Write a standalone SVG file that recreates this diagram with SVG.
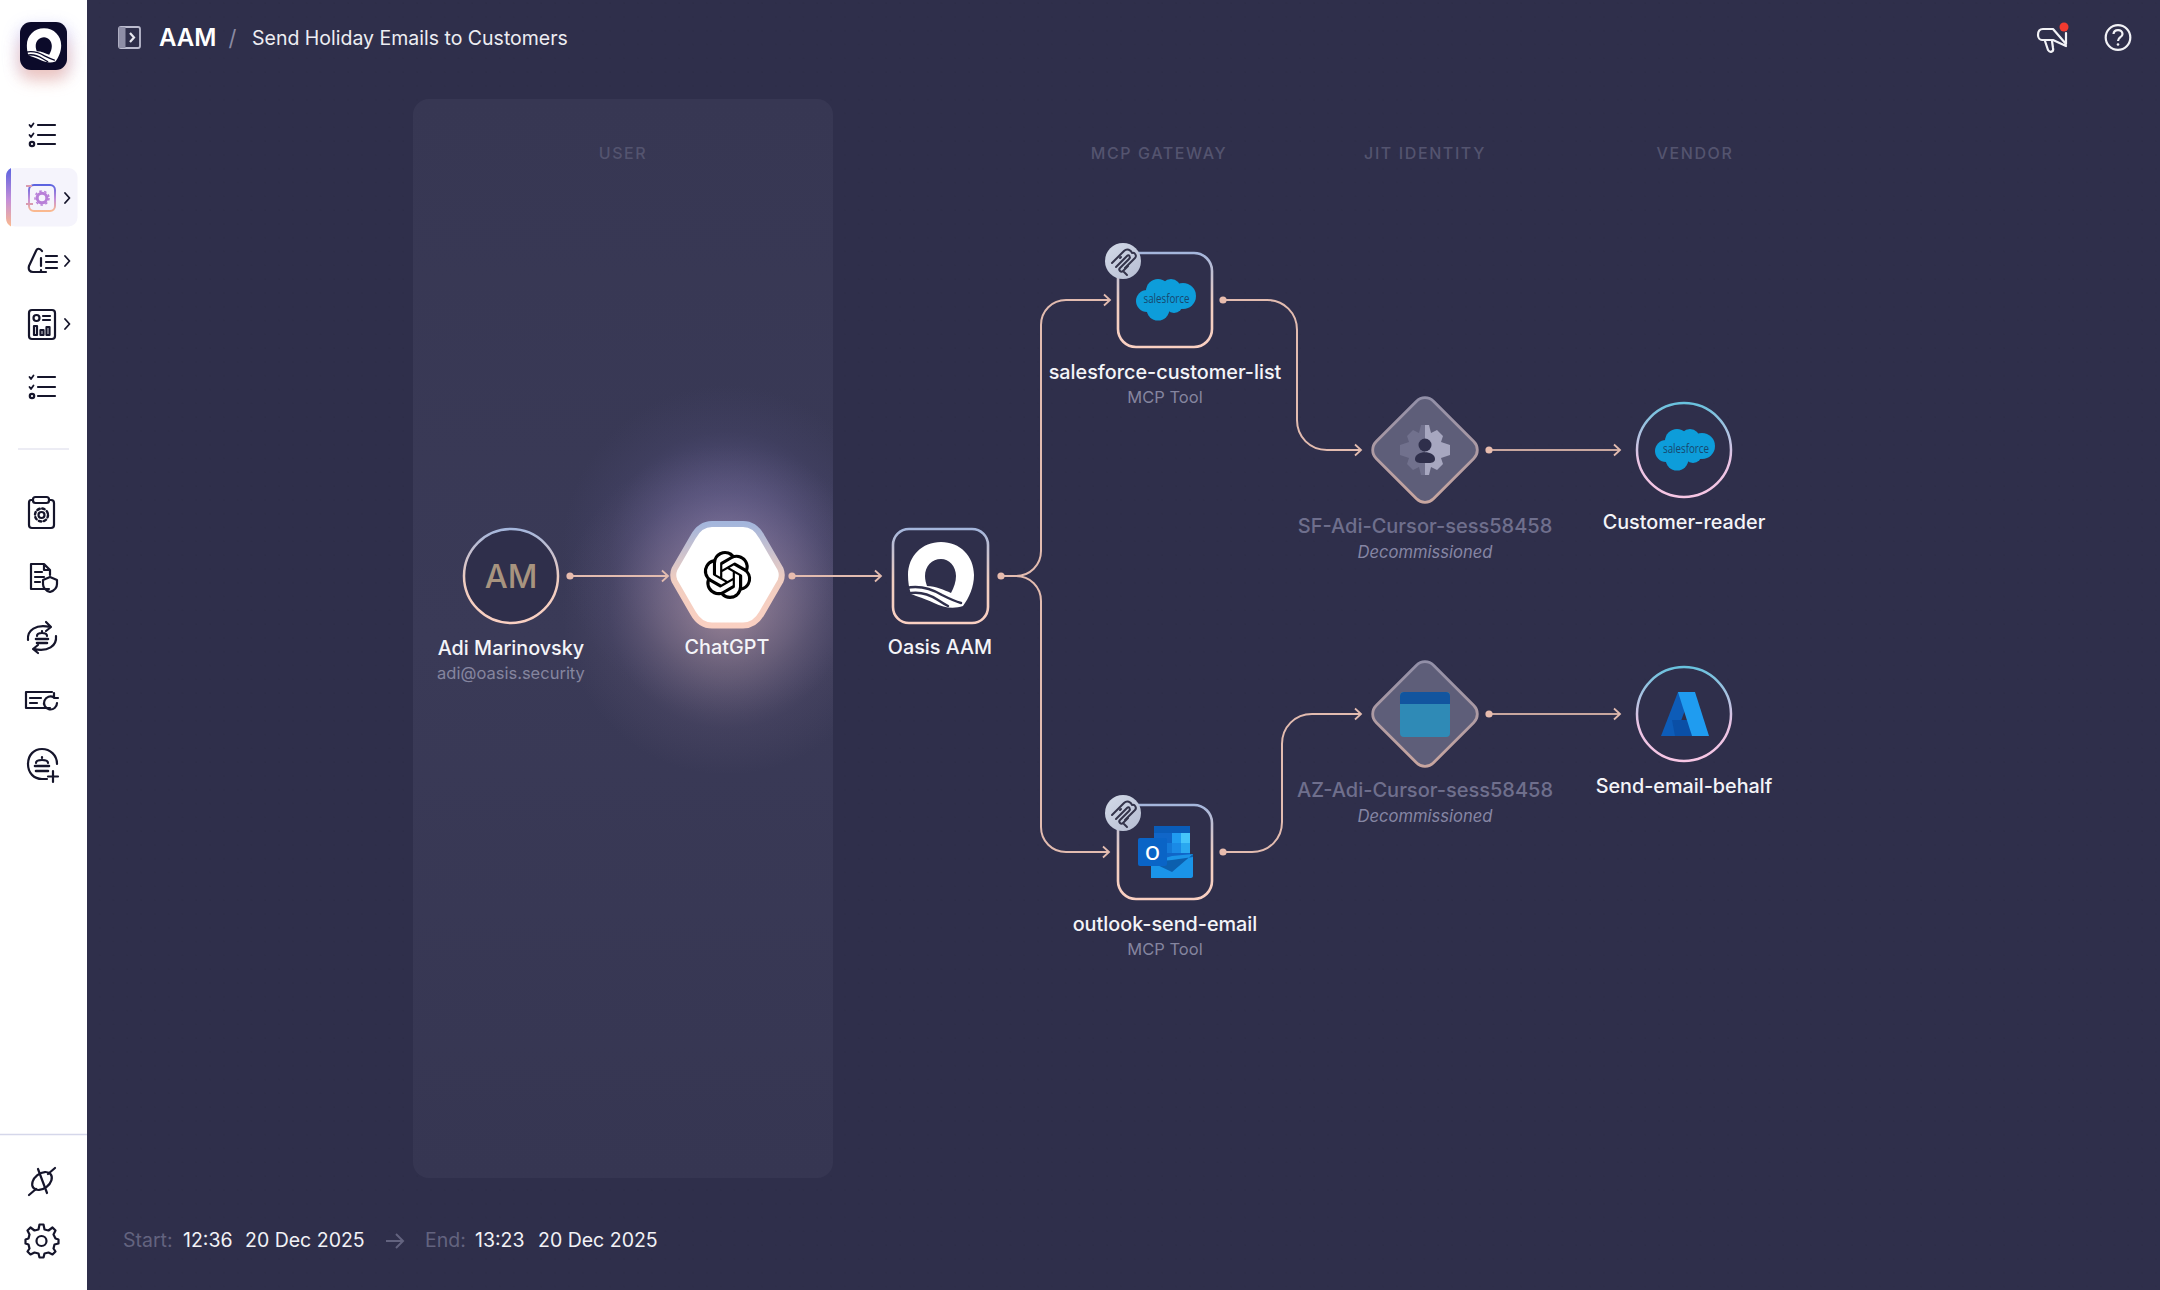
<svg xmlns="http://www.w3.org/2000/svg" xmlns:xlink="http://www.w3.org/1999/xlink" width="2160" height="1290" viewBox="0 0 2160 1290">
<style>
text{font-family:Inter,"Noto Sans","Liberation Sans",sans-serif}
.nm{fill:#f4f4f8;font-size:19.800px;font-weight:500;text-anchor:middle}
.sub{fill:#85859f;font-size:16.500px;text-anchor:middle}
.dim{fill:#6f6f8d;font-size:20px;font-weight:500;text-anchor:middle}
.dec{fill:#8686a4;font-size:16.600px;font-style:italic;text-anchor:middle}
.col{fill:#54546f;font-size:16px;font-weight:500;letter-spacing:1.600px;text-anchor:middle}
.ft{fill:#f2f2f6;font-size:19.500px}
.ftd{fill:#63637f;font-size:19.500px}
.ic{fill:none;stroke:#15152b;stroke-width:2.200;stroke-linecap:round;stroke-linejoin:round}
.cn{fill:none;stroke:#e3bcb0;stroke-width:2;marker-start:url(#dot);marker-end:url(#arr)}
.cn2{fill:none;stroke:#e3bcb0;stroke-width:2;marker-end:url(#arr)}
.dm{stroke:#c9a79f}
.box{fill:#2f2f4b;stroke:url(#gs);stroke-width:2.600}
.cld{fill:#0d9dda}
.sf{fill:#17476e;font-size:12px;font-family:"Open Sans","Liberation Sans",sans-serif}
</style>
<defs>
<linearGradient id="gs" x1="0" y1="0" x2="0" y2="1"><stop offset="0" stop-color="#a4b6dc"/><stop offset=".55" stop-color="#f0cdc0"/><stop offset="1" stop-color="#fad0c2"/></linearGradient>
<linearGradient id="gd" x1="0" y1="0" x2="1" y2="1"><stop offset="0" stop-color="#8f8ea8"/><stop offset="1" stop-color="#cba79f"/></linearGradient>
<linearGradient id="gv" x1="0" y1="0" x2="0" y2="1"><stop offset="0" stop-color="#68c2de"/><stop offset=".6" stop-color="#e9c3e4"/><stop offset="1" stop-color="#f7c6e4"/></linearGradient>
<linearGradient id="gb" x1="0" y1="0" x2="1" y2="1"><stop offset="0" stop-color="#d3dae8"/><stop offset="1" stop-color="#b6bdd2"/></linearGradient>
<linearGradient id="ga" x1="0" y1="0" x2="0" y2="1"><stop offset="0" stop-color="#5b63e0"/><stop offset=".55" stop-color="#c58fd8"/><stop offset="1" stop-color="#fbb98e"/></linearGradient>
<linearGradient id="gp" x1="0" y1="0" x2="0" y2="1"><stop offset="0" stop-color="#373753"/><stop offset=".5" stop-color="#3a3a57"/><stop offset="1" stop-color="#363652"/></linearGradient>
<radialGradient id="g1" gradientUnits="userSpaceOnUse" cx="727" cy="550" r="165"><stop offset="0" stop-color="#7a74ac" stop-opacity=".8"/><stop offset=".4" stop-color="#6a6496" stop-opacity=".55"/><stop offset=".72" stop-color="#5f5a8c" stop-opacity=".16"/><stop offset="1" stop-color="#5a5686" stop-opacity="0"/></radialGradient>
<radialGradient id="g2" gradientUnits="userSpaceOnUse" cx="727" cy="610" r="165"><stop offset="0" stop-color="#b89aa2" stop-opacity=".7"/><stop offset=".4" stop-color="#9a8598" stop-opacity=".42"/><stop offset=".72" stop-color="#807090" stop-opacity=".13"/><stop offset="1" stop-color="#807090" stop-opacity="0"/></radialGradient>
<clipPath id="pc"><rect x="413" y="99" width="420" height="1079" rx="16"/></clipPath>
<filter id="b8" x="-60%" y="-60%" width="220%" height="220%"><feGaussianBlur stdDeviation="8"/></filter>
<pattern id="dots" width="13.8" height="13.8" patternUnits="userSpaceOnUse"><circle cx="3" cy="3" r=".6" fill="#1c1c30" opacity=".35"/></pattern>
<marker id="dot" markerUnits="userSpaceOnUse" markerWidth="10" markerHeight="10" refX="5" refY="5" viewBox="0 0 10 10"><circle cx="5" cy="5" r="3.600" fill="#e8bcae"/></marker>
<marker id="arr" markerUnits="userSpaceOnUse" markerWidth="12" markerHeight="16" refX="9" refY="8" viewBox="0 0 12 16" orient="auto"><path d="M3 2.500L9 8L3 13.500" fill="none" stroke="#e3bcb0" stroke-width="1.800"/></marker>
<g id="cloud" class="cld">
<circle cx="11" cy="22" r="11"/><circle cx="22" cy="12" r="12"/><circle cx="35" cy="10" r="10"/><circle cx="47" cy="17" r="13"/><circle cx="38" cy="25" r="9"/><circle cx="22" cy="30" r="11.500"/><rect x="12" y="12" width="34" height="18"/>
</g>
<g id="mcp" fill="none" stroke="#33334a" stroke-width="2" stroke-linecap="round" stroke-linejoin="round">
<path d="M-11 2L1-10C4-13 8-11 9-8C12-9 14-5 12-3L2 7"/>
<path d="M-7 6L4-5C6-7 8-4 6-2L-3 7C-5 9-2 12 0 10L5 5"/>
<path d="M-3-3L-2-4"/>
<path d="M1 11L4 14"/>
</g>
<g id="q">
<path fill="#fff" d="M-32-1C-32-20-18-34 1-34C20-34 34-20 34-1C34 11 29 22 23 30C14 33 4 32-6 27C-14 23-24 20-29 18C-31 12-32 6-32-1Z"/>
<path fill="currentColor" d="M1-17C-8-17-15-10-15 0C-15 4-14 7-13 10C-4 10 4 14 11 17C14 11 16 6 16 0C16-10 9-17 1-17Z"/>
<path fill="none" stroke="currentColor" stroke-width="2.500" stroke-linecap="round" d="M-34 12C-20 9-8 13 2 19C8 22 14 25 21 27"/>
<path fill="none" stroke="currentColor" stroke-width="2.500" stroke-linecap="round" d="M-33 18C-22 15-10 19-2 24C1 26 4 28 8 30"/>
</g>
<g id="chk" class="ic"><path d="M38 125H55M38 135H55M38 144H55"/><path d="M29.500 125L31 127L33.500 123.500M29.500 135L31 137L33.500 133.500" stroke-width="1.800"/><circle cx="32" cy="144" r="2.200"/></g>
<path id="open" d="M22.2819 9.8211a5.9847 5.9847 0 0 0-.5157-4.9108 6.0462 6.0462 0 0 0-6.5098-2.9A6.0651 6.0651 0 0 0 4.9807 4.1818a5.9847 5.9847 0 0 0-3.9977 2.9 6.0462 6.0462 0 0 0 .7427 7.0966 5.98 5.98 0 0 0 .511 4.9107 6.051 6.051 0 0 0 6.5146 2.9001A5.9847 5.9847 0 0 0 13.2599 24a6.0557 6.0557 0 0 0 5.7718-4.2058 5.9894 5.9894 0 0 0 3.9977-2.9001 6.0557 6.0557 0 0 0-.7475-7.0729zm-9.022 12.6081a4.4755 4.4755 0 0 1-2.8764-1.0408l.1419-.0804 4.7783-2.7582a.7948.7948 0 0 0 .3927-.6813v-6.7369l2.02 1.1686a.071.071 0 0 1 .038.052v5.5826a4.504 4.504 0 0 1-4.4945 4.4944zm-9.6607-4.1254a4.4708 4.4708 0 0 1-.5346-3.0137l.142.0852 4.783 2.7582a.7712.7712 0 0 0 .7806 0l5.8428-3.3685v2.3324a.0804.0804 0 0 1-.0332.0615L9.74 19.9502a4.4992 4.4992 0 0 1-6.1408-1.6464zM2.3408 7.8956a4.485 4.485 0 0 1 2.3655-1.9728V11.6a.7664.7664 0 0 0 .3879.6765l5.8144 3.3543-2.0201 1.1685a.0757.0757 0 0 1-.071 0l-4.8303-2.7865A4.504 4.504 0 0 1 2.3408 7.872zm16.5963 3.8558L13.1038 8.364 15.1192 7.2a.0757.0757 0 0 1 .071 0l4.8303 2.7913a4.4944 4.4944 0 0 1-.6765 8.1042v-5.6772a.79.79 0 0 0-.407-.667zm2.0107-3.0231l-.142-.0852-4.7735-2.7818a.7759.7759 0 0 0-.7854 0L9.409 9.2297V6.8974a.0662.0662 0 0 1 .0284-.0615l4.8303-2.7866a4.4992 4.4992 0 0 1 6.6802 4.66zM8.3065 12.863l-2.02-1.1638a.0804.0804 0 0 1-.038-.0567V6.0742a4.4992 4.4992 0 0 1 7.3757-3.4537l-.142.0805L8.704 5.459a.7948.7948 0 0 0-.3927.6813zm1.0976-2.3654l2.602-1.4998 2.6069 1.4998v2.9994l-2.5974 1.4997-2.6067-1.4997Z"/>
</defs>

<rect width="2160" height="1290" fill="#2f2f4b"/>
<rect x="87" width="2073" height="1290" fill="url(#dots)"/>

<g id="lane-user">
<rect x="413" y="99" width="420" height="1079" rx="16" fill="url(#gp)"/>
<g clip-path="url(#pc)"><circle cx="727" cy="550" r="165" fill="url(#g1)"/><circle cx="727" cy="610" r="165" fill="url(#g2)"/></g>
</g>

<g id="sidebar">
<rect width="87" height="1290" fill="#fff"/>
<g id="logo">
<rect x="18" y="26" width="52" height="50" rx="12" fill="#8f8ff0" opacity=".35" filter="url(#b8)"/>
<rect x="20" y="38" width="48" height="42" rx="12" fill="#f8b090" opacity=".55" filter="url(#b8)"/>
<rect x="20" y="22" width="47" height="48" rx="11" fill="#0b0a2a"/>
<use href="#q" transform="translate(43.500 46) scale(.52)" style="color:#0b0a2a"/>
</g>
<use href="#chk"/>
<rect x="6" y="168" width="71.500" height="58.500" rx="9" fill="#f5f4fc"/>
<path d="M11 168C8 170 6 172 6 176V218C6 222 8 225 11 226.500Z" fill="url(#ga)"/>
<g fill="none" stroke-width="2">
<rect x="29" y="185" width="26" height="26" rx="5" stroke="url(#ga)"/>
<circle cx="42" cy="198" r="4.800" stroke="#b87fd8" stroke-width="3"/>
<circle cx="42" cy="198" r="7" stroke="#b87fd8" stroke-width="1.500" stroke-dasharray="2.500 2.500"/>
<path d="M26 186H32M26 204H33" stroke="#d99bb0"/>
</g>
<g class="ic" stroke-width="2">
<path d="M65 193L69.500 198L65 203M65 256L69.500 261L65 266M65 319L69.500 324L65 329" stroke-width="1.800"/>
<path d="M36 251C37 248 40 248 42 251M36 251L29 266C28 270 30 272 33 272H46"/>
<path d="M41 258V266M41 270V271M46 256H57M46 262H57M46 268H57"/>
<rect x="29" y="310" width="26" height="29" rx="3"/>
<circle cx="36.500" cy="318" r="3"/><path d="M43 316H50M43 320H50"/>
<rect x="34" y="326" width="3" height="9"/><rect x="40.500" y="330" width="3" height="5"/><rect x="46.500" y="327" width="3" height="8"/>
</g>
<use href="#chk" y="252"/>
<path d="M18 449H69" stroke="#e6e6f0" stroke-width="1.500"/>
<g class="ic">
<path d="M33 500H31C29.500 500 29 501 29 503V525C29 527 30 528 32 528H51C53 528 54 527 54 525V503C54 501 53 500 51 500H49"/>
<rect x="33" y="497" width="16" height="6" rx="2.500"/>
<circle cx="41.500" cy="515" r="3"/>
<circle cx="41.500" cy="515" r="6.500" stroke-dasharray="2.500 2.600" stroke-width="2.400"/>
<path d="M49 589H31V564H44L50 570V575M44 564V570H50M35 572H42M35 577H44M35 582H40"/>
<path d="M50 577L57 580V584C57 589 53 591 50 592C47 591 43 589 43 584V580Z"/>
<path d="M28 640C27 630 36 624 50 627M56 636C57 646 48 652 34 649M46 622L51 627L46 631M38 645L33 649L38 653"/>
<path d="M36 639H48M37 643H47" stroke-width="2.600"/>
<path d="M37 636C37 632 47 632 47 636M42 631V632"/>
<path d="M50 708H26V692H52M30 698H41M30 703H37"/>
<path d="M57 703A6.500 6.500 0 1 1 54 697.500M54 693V698H58"/>
<path d="M57 764C57 755 50 749 42 749C34 749 28 755 28 764C28 773 34 779 42 779H47"/>
<path d="M35 766H49M36 771H48" stroke-width="2.600"/>
<path d="M36 763C36 759 48 759 48 763M42 757V758"/>
<path d="M53 771V782M48 776.500H58"/>
<path d="M29 1195L36 1189M55 1168L48 1174M38 1169L47 1193"/>
<ellipse cx="42" cy="1181" rx="11" ry="7.500" transform="rotate(-38 42 1181)"/>
<path d="M42 1226L43 1231L47 1232L51 1229L54 1232L52 1236L54 1240L57 1241V1245L53 1246L52 1250L54 1253L51 1256L47 1254L43 1255L42 1259H38L37 1255L33 1254L29 1256L26 1253L28 1250L27 1246L24 1245V1241L27 1240L28 1236L26 1232L29 1229L33 1232L37 1231L38 1226Z" transform="translate(1.500 -1.500)"/>
<circle cx="41.500" cy="1241" r="5"/>
</g>
<path d="M0 1134.500H87" stroke="#d5d7ea" stroke-width="1.500"/>
</g>

<g id="header">
<g id="toggle" fill="none" stroke="#bcbccf" stroke-width="1.800"><rect x="119" y="27" width="21" height="21" rx="2"/><rect x="119" y="27" width="6.500" height="21" fill="#8e8ea6" stroke="none"/><path d="M130 33L134 37.500L130 42" stroke="#e8e8f0" stroke-width="2.200"/></g>
<text x="159" y="45.500" fill="#fff" font-size="24" font-weight="600">AAM</text>
<text x="228.500" y="46" fill="#8a8aa2" font-size="22">/</text>
<text x="252" y="45" fill="#ededf2" font-size="19.500">Send Holiday Emails to Customers</text>
<g id="megaphone" fill="none" stroke="#f2f2f6" stroke-width="2.200" stroke-linejoin="round" stroke-linecap="round">
<path d="M2043 29H2053L2066 44V33M2043 29C2039 29 2038 32 2038 35C2038 38 2040 40 2042 40L2053 40L2066 46"/>
<path d="M2045 41L2048 50C2050 53 2054 52 2053 48L2052 41"/>
<circle cx="2064" cy="27" r="4.500" fill="#f23a2f" stroke="none"/>
</g>
<g id="help" fill="none" stroke="#f2f2f6" stroke-width="2.200"><circle cx="2118" cy="37.500" r="12.300"/><path d="M2113.500 34C2114 28.500 2122.500 29 2122.500 34C2122.500 37.500 2118 37 2118 41"/></g>
<circle cx="2118" cy="44.500" r="1.300" fill="#f2f2f6"/>
</g>

<g id="column-labels">
<text class="col" x="623" y="159">USER</text>
<text class="col" x="1159" y="159">MCP GATEWAY</text>
<text class="col" x="1425" y="159">JIT IDENTITY</text>
<text class="col" x="1695" y="159">VENDOR</text>
</g>

<g id="connectors">
<path class="cn" d="M570 576H668"/>
<path class="cn" d="M792 576H881"/>
<path class="cn" d="M1001 576H1016C1030 576 1041 565 1041 551V325C1041 311 1052 300 1066 300H1110"/>
<path class="cn2" d="M1001 576H1016C1030 576 1041 587 1041 601V827C1041 841 1052 852 1066 852H1109"/>
<path class="cn" d="M1223 300H1267C1284 300 1297 313 1297 330V420C1297 437 1310 450 1327 450H1361"/>
<path class="cn" d="M1223 852H1252C1269 852 1282 839 1282 822V744C1282 727 1295 714 1312 714H1361"/>
<path class="cn dm" d="M1489 450H1620"/>
<path class="cn dm" d="M1489 714H1620"/>
</g>

<g id="node-user">
<circle cx="511" cy="576" r="47" fill="#2f2f4b" stroke="url(#gs)" stroke-width="2.500"/>
<text x="511" y="588" fill="#a8947f" font-size="32.500" font-weight="500" text-anchor="middle">AM</text>
<text class="nm" x="511" y="655">Adi Marinovsky</text>
<text class="sub" x="511" y="679">adi@oasis.security</text>
</g>

<g id="node-chatgpt">
<path fill="#fff" stroke="url(#gs)" stroke-width="6" stroke-linejoin="round" d="M674.500 569L693 537Q700 524 712 524H743Q755 524 762 537L780.500 569Q783 575 780.500 581L762 613Q755 625.500 743 625.500H712Q700 625.500 693 613L674.500 581Q672 575 674.500 569Z"/>
<use href="#open" transform="translate(703.500 551) scale(2)" fill="#000"/>
<text class="nm" x="727" y="654">ChatGPT</text>
</g>

<g id="node-oasis">
<rect class="box" x="893" y="529" width="95" height="94" rx="16"/>
<use href="#q" transform="translate(940 576)" style="color:#2f2f4b"/>
<text class="nm" x="940" y="654">Oasis AAM</text>
</g>

<g id="node-salesforce-tool">
<rect class="box" x="1118" y="253" width="94" height="94" rx="18"/>
<use href="#cloud" transform="translate(1136 279)"/>
<text class="sf" x="1143.500" y="303" textLength="46" lengthAdjust="spacingAndGlyphs">salesforce</text>
<circle cx="1123" cy="261" r="18" fill="url(#gb)"/>
<use href="#mcp" transform="translate(1123 261)"/>
<text class="nm" x="1165" y="379">salesforce-customer-list</text>
<text class="sub" x="1165" y="403">MCP Tool</text>
</g>

<g id="node-outlook-tool">
<rect class="box" x="1118" y="805" width="94" height="94" rx="18"/>
<g id="outlook">
<rect x="1154" y="826" width="36" height="36" rx="2" fill="#1066c8"/>
<rect x="1154" y="826" width="36" height="7" fill="#0a5cb8"/>
<rect x="1172" y="833" width="9" height="10" fill="#1f9bf0"/><rect x="1181" y="833" width="9" height="10" fill="#45c4fa"/>
<rect x="1163" y="843" width="9" height="10" fill="#1479d8"/><rect x="1172" y="843" width="9" height="10" fill="#1a8ae6"/><rect x="1181" y="843" width="9" height="10" fill="#2aa8f0"/>
<path d="M1151 878V862L1172 856L1193 854V876C1193 877 1192 878 1191 878Z" fill="#1a94e8"/>
<path d="M1151 862L1172 872L1193 854L1193 857L1172 860Z" fill="#0c5fae"/>
<rect x="1138" y="838" width="29" height="28" rx="2" fill="#0a64c6"/>
<text x="1152.500" y="860" fill="#fff" font-size="19" font-weight="600" text-anchor="middle" style="font-family:'Open Sans',sans-serif">O</text>
</g>
<circle cx="1123" cy="813" r="18" fill="url(#gb)"/>
<use href="#mcp" transform="translate(1123 813)"/>
<text class="nm" x="1165" y="931">outlook-send-email</text>
<text class="sub" x="1165" y="955">MCP Tool</text>
</g>

<g id="node-sf-identity">
<rect x="1384.500" y="409.500" width="81" height="81" rx="12" fill="#5e5e79" stroke="url(#gd)" stroke-width="2.800" transform="rotate(45 1425 450)"/>
<clipPath id="cl"><rect x="1398" y="422" width="27" height="56"/></clipPath>
<clipPath id="cr"><rect x="1425" y="422" width="27" height="56"/></clipPath>
<path clip-path="url(#cl)" fill="#71718d" d="M1421 425H1429L1431 433L1437 430L1443 436L1441 442L1450 445V455L1441 458L1443 464L1437 470L1431 467L1429 475H1421L1419 467L1413 470L1407 464L1409 458L1400 455V445L1409 442L1407 436L1413 430L1419 433Z"/>
<path clip-path="url(#cr)" fill="#a7a7c0" d="M1421 425H1429L1431 433L1437 430L1443 436L1441 442L1450 445V455L1441 458L1443 464L1437 470L1431 467L1429 475H1421L1419 467L1413 470L1407 464L1409 458L1400 455V445L1409 442L1407 436L1413 430L1419 433Z"/>
<circle cx="1425" cy="445" r="6.500" fill="#2f2f4b"/>
<path d="M1415 459C1415 450 1435 450 1435 459C1435 462 1432 463 1429 463H1421C1418 463 1415 462 1415 459Z" fill="#2f2f4b"/>
<text class="dim" x="1425" y="533">SF-Adi-Cursor-sess58458</text>
<text class="dec" x="1425" y="558">Decommissioned</text>
</g>

<g id="node-az-identity">
<rect x="1384.500" y="673.500" width="81" height="81" rx="12" fill="#5e5e79" stroke="url(#gd)" stroke-width="2.800" transform="rotate(45 1425 714)"/>
<rect x="1400" y="692" width="50" height="45" rx="4" fill="#2f8ab6"/>
<path d="M1400 704V696C1400 693.500 1402 692 1404 692H1446C1448 692 1450 693.500 1450 696V704Z" fill="#12559f"/>
<text class="dim" x="1425" y="797">AZ-Adi-Cursor-sess58458</text>
<text class="dec" x="1425" y="822">Decommissioned</text>
</g>

<g id="node-customer-reader">
<circle cx="1684" cy="450" r="47" fill="#2f2f4b" stroke="url(#gv)" stroke-width="2.500"/>
<use href="#cloud" transform="translate(1655 429)"/>
<text class="sf" x="1663" y="453" textLength="46" lengthAdjust="spacingAndGlyphs">salesforce</text>
<text class="nm" x="1684" y="529">Customer-reader</text>
</g>

<g id="node-send-email">
<circle cx="1684" cy="714" r="47" fill="#2f2f4b" stroke="url(#gv)" stroke-width="2.500"/>
<g id="azure">
<path d="M1678 692L1661 736H1675L1679 726L1692 692Z" fill="#0d5cb8"/>
<path d="M1672 720H1690L1692 736H1675Z" fill="#0a4fa6"/>
<path d="M1678 692H1695L1709 736H1692Z" fill="#1f9cf0"/>
</g>
<text class="nm" x="1684" y="793">Send-email-behalf</text>
</g>

<g id="footer">
<text class="ftd" x="123" y="1247">Start:</text>
<text class="ft" x="183" y="1247">12:36</text>
<text class="ft" x="245" y="1247">20 Dec 2025</text>
<path d="M386 1241H403M396 1234L403 1241L396 1248" fill="none" stroke="#63637f" stroke-width="2"/>
<text class="ftd" x="425" y="1247">End:</text>
<text class="ft" x="475" y="1247">13:23</text>
<text class="ft" x="538" y="1247">20 Dec 2025</text>
</g>
</svg>
